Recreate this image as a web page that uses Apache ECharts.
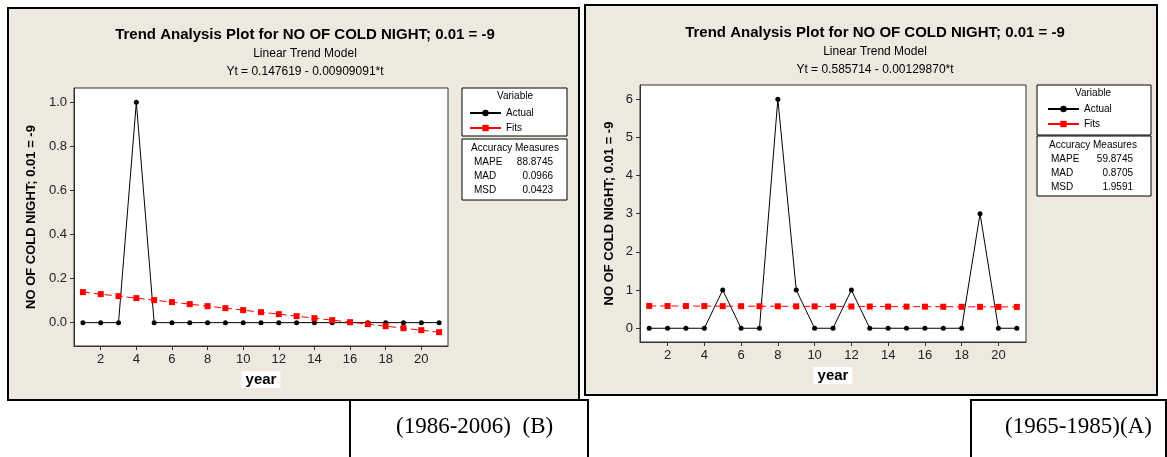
<!DOCTYPE html>
<html>
<head>
<meta charset="utf-8">
<script src="https://cdn.jsdelivr.net/npm/echarts@6/dist/echarts.min.js"></script>
<style>
html,body{margin:0;padding:0;background:#fff;}
#chart{width:1167px;height:457px;}
</style>
</head>
<body>
<div id="chart"></div>
<script>
// ---------- data ----------
const years = [1,2,3,4,5,6,7,8,9,10,11,12,13,14,15,16,17,18,19,20,21];
const xTicks = [2,4,6,8,10,12,14,16,18,20];

// Panel B (1986-2006)
const actualB = [0,0,0,1,0,0,0,0,0,0,0,0,0,0,0,0,0,0,0,0,0];
const fitsB = [0.1385,0.1294,0.1203,0.1112,0.1022,0.0931,0.0840,0.0749,0.0658,0.0567,0.0476,
               0.0385,0.0294,0.0203,0.0113,0.0022,-0.0069,-0.0160,-0.0251,-0.0342,-0.0433];
const yTicksB = [0,0.2,0.4,0.6,0.8,1.0];
const measuresB = [['MAPE','88.8745'],['MAD','0.0966'],['MSD','0.0423']];
const equationB = 'Yt = 0.147619 - 0.00909091*t';

// Panel A (1965-1985)
const actualA = [0,0,0,0,1,0,0,6,1,0,0,1,0,0,0,0,0,0,3,0,0];
const fitsA = [0.5844,0.5831,0.5818,0.5805,0.5792,0.5779,0.5766,0.5753,0.5740,0.5727,0.5714,
               0.5701,0.5688,0.5675,0.5662,0.5649,0.5636,0.5623,0.5610,0.5597,0.5584];
const yTicksA = [0,1,2,3,4,5,6];
const measuresA = [['MAPE','59.8745'],['MAD','0.8705'],['MSD','1.9591']];
const equationA = 'Yt = 0.585714 - 0.00129870*t';

const mainTitle = 'Trend Analysis Plot for NO OF COLD NIGHT; 0.01 = -9';
const subTitle = 'Linear Trend Model';
const yName = 'NO OF COLD NIGHT; 0.01 = -9';
const xName = 'year';
const periodB = '(1986-2006)  (B)';
const periodA = '(1965-1985)(A)';

// ---------- chart ----------
const SANS = '"Liberation Sans", Arial, sans-serif';
const SERIF = '"Liberation Serif", "Times New Roman", serif';
const BEIGE = '#EDE9DF';

const chart = echarts.init(document.getElementById('chart'), null, {renderer:'canvas'});

function pairs(ys){ return years.map((t,i)=>[t, ys[i]]); }

function xAxisDef(gi){
  return {
    type:'value', gridIndex:gi, min:0.5, max:21.5,
    name:xName, nameLocation:'middle', nameGap:22,
    nameTextStyle:{fontFamily:SANS, fontSize:15, fontWeight:'bold', color:'#000',
      backgroundColor:'#fff', padding:[1,4,1,4]},
    axisLine:{show:true, onZero:false, lineStyle:{color:'#333', width:1}},
    axisTick:{show:true, inside:false, length:4, customValues:xTicks, lineStyle:{color:'#333'}},
    axisLabel:{customValues:xTicks, margin:7, fontFamily:SANS, fontSize:13, color:'#222'},
    splitLine:{show:false}
  };
}
function yAxisDef(gi, min, max, ticks, dec, gap){
  return {
    type:'value', gridIndex:gi, min:min, max:max,
    name:yName, nameLocation:'middle', nameGap:gap, nameRotate:90,
    nameTextStyle:{fontFamily:SANS, fontSize:13, fontWeight:'bold', color:'#000'},
    axisLine:{show:true, onZero:false, lineStyle:{color:'#333', width:1}},
    axisTick:{show:true, inside:false, length:4, customValues:ticks, lineStyle:{color:'#333'}},
    axisLabel:{customValues:ticks, margin:7, fontFamily:SANS, fontSize:13, color:'#222',
      formatter:v=>v.toFixed(dec)},
    splitLine:{show:false}
  };
}
function seriesDefs(gi, act, fit){
  return [
    {name:'Actual', type:'line', xAxisIndex:gi, yAxisIndex:gi, data:pairs(act),
     symbol:'circle', symbolSize:5, itemStyle:{color:'#000'},
     lineStyle:{color:'#000', width:1}, z:3},
    {name:'Fits', type:'line', xAxisIndex:gi, yAxisIndex:gi, data:pairs(fit),
     symbol:'rect', symbolSize:6, itemStyle:{color:'#FF0000'},
     lineStyle:{color:'#FF0000', width:1, type:[7,4]}, z:4}
  ];
}
function titleDef(cx, top, eq){
  return {
    text:mainTitle, subtext:subTitle + '\n' + eq,
    left:cx, top:top, textAlign:'center', itemGap:3,
    textStyle:{fontFamily:SANS, fontSize:15, fontWeight:'bold', color:'#000'},
    subtextStyle:{fontFamily:SANS, fontSize:12, color:'#000', lineHeight:18}
  };
}
function legendDef(left, top){
  return {
    orient:'vertical', left:left, top:top, itemWidth:31, itemHeight:8, itemGap:5,
    data:['Actual','Fits'], selectedMode:false,
    lineStyle:{type:'solid'},
    textStyle:{fontFamily:SANS, fontSize:10, color:'#000'}
  };
}
function boxGraphics(x, w, y1, h1, y2, h2, cx, rows, valRight, labLeft){
  const g = [
    {type:'rect', shape:{x:x, y:y1, width:w, height:h1}, style:{fill:'#fff', stroke:'#000', lineWidth:1}},
    {type:'text', x:cx, y:y1+8, style:{text:'Variable', fontFamily:SANS, fontSize:10, fill:'#000', align:'center', verticalAlign:'middle'}},
    {type:'rect', shape:{x:x, y:y2, width:w, height:h2}, style:{fill:'#fff', stroke:'#000', lineWidth:1}},
    {type:'text', x:cx, y:y2+9, style:{text:'Accuracy Measures', fontFamily:SANS, fontSize:10, fill:'#000', align:'center', verticalAlign:'middle'}}
  ];
  rows.forEach((r,i)=>{
    const yy = y2 + 23 + i*14;
    g.push({type:'text', x:labLeft, y:yy, style:{text:r[0], fontFamily:SANS, fontSize:10, fill:'#000', align:'left', verticalAlign:'middle'}});
    g.push({type:'text', x:valRight, y:yy, style:{text:r[1], fontFamily:SANS, fontSize:10, fill:'#000', align:'right', verticalAlign:'middle'}});
  });
  return g;
}

const graphics = [
  // panel backgrounds
  {type:'rect', z:-100, shape:{x:8, y:8, width:571, height:392}, style:{fill:BEIGE, stroke:'#000', lineWidth:2}},
  {type:'rect', z:-100, shape:{x:585, y:5, width:572, height:390}, style:{fill:BEIGE, stroke:'#000', lineWidth:2}},
  // bottom caption boxes
  {type:'polyline', shape:{points:[[350,457],[350,400],[588,400],[588,457]]}, style:{fill:null, stroke:'#000', lineWidth:2}},
  {type:'polyline', shape:{points:[[971,457],[971,400],[1166,400],[1166,457]]}, style:{fill:null, stroke:'#000', lineWidth:2}},
  {type:'text', x:396, y:427, style:{text:periodB, fontFamily:SERIF, fontSize:23, fill:'#000', align:'left', verticalAlign:'middle'}},
  {type:'text', x:1005, y:427, style:{text:periodA, fontFamily:SERIF, fontSize:23, fill:'#000', align:'left', verticalAlign:'middle'}}
].concat(
  boxGraphics(462, 105, 88, 48, 139, 61, 515, measuresB, 553, 474),
  boxGraphics(1037, 114, 85, 50, 136, 60, 1093, measuresA, 1133, 1051)
);

const option = {
  animation:false,
  backgroundColor:'#fff',
  title:[ titleDef(300, 22, equationB), titleDef(870, 20, equationA) ],
  legend:[ legendDef(464, 103), legendDef(1042, 99) ],
  grid:[
    {left:74, top:88, width:374, height:258, show:true, backgroundColor:'#fff', borderColor:'#333', borderWidth:1, containLabel:false},
    {left:640, top:85, width:386, height:257, show:true, backgroundColor:'#fff', borderColor:'#333', borderWidth:1, containLabel:false}
  ],
  xAxis:[ xAxisDef(0), xAxisDef(1) ],
  yAxis:[ yAxisDef(0, -0.106, 1.065, yTicksB, 1, 36), yAxisDef(1, -0.36, 6.37, yTicksA, 0, 24) ],
  series: seriesDefs(0, actualB, fitsB).concat(seriesDefs(1, actualA, fitsA)),
  graphic: graphics
};
chart.setOption(option);
</script>
</body>
</html>
